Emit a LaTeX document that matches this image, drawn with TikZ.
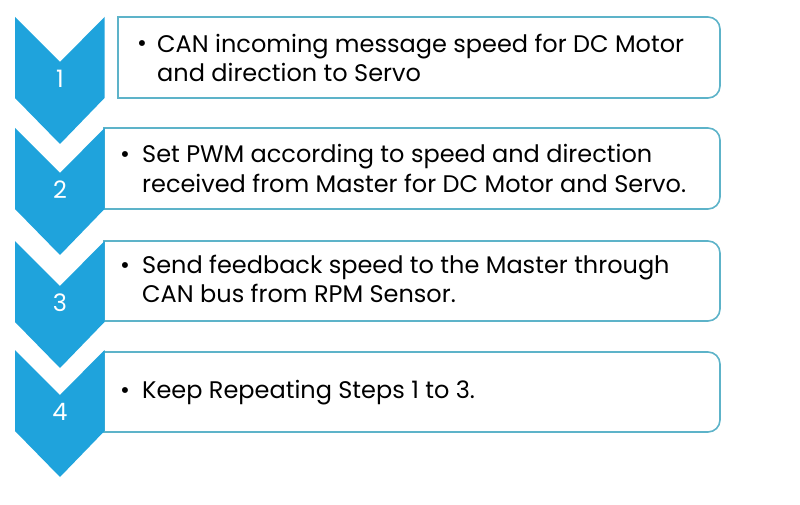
\documentclass[tikz,border=0pt]{standalone}
\usepackage{fontspec}
\setmainfont{Poppins}
\definecolor{chev}{HTML}{1FA3DC}
\definecolor{bord}{HTML}{5DB3C9}
\tikzset{
  chevshape/.style={fill=chev, draw=none},
  stepbox/.style={draw=bord, line width=1.6pt, fill=white},
  numlabel/.style={text=white, font=\fontsize{24}{24}\selectfont, inner sep=0pt},
  bulletlabel/.style={font=\fontsize{24}{30}\selectfont, inner sep=0pt, anchor=base},
  textlabel/.style={font=\fontsize{24}{29.5}\selectfont, inner sep=0pt, align=left, anchor=base west},
}
\newcommand{\stepboxpath}[3]{% left x, top y, bottom y
  \draw[stepbox] (#1,#2) -- (708,#2) arc[start angle=-90,end angle=0,radius=12] -- (720,#3-12) arc[start angle=0,end angle=90,radius=12] -- (#1,#3) -- cycle;}
\begin{document}
\begin{tikzpicture}[x=1pt,y=-1pt]
\useasboundingbox (0,0) rectangle (800,505);
% boxes
\stepboxpath{118}{17}{98}
\stepboxpath{104}{128}{209}
\stepboxpath{104}{241}{321}
\stepboxpath{104}{352}{432}
% chevrons
\foreach \t/\n in {17/1,128/2,241/3,350/4}{
  \fill[chevshape] (15,\t) -- (60,\t+45) -- (104.5,\t) -- (104.5,\t+81) -- (60,\t+127) -- (15,\t+81) -- cycle;
  \node[numlabel] (num\n) at (60,\t+62) {\n};
}
% texts (anchored at the baseline of the last line)
\node[bulletlabel] (b1) at (142,52) {•};
\node[textlabel] (t1) at (157,82) {CAN incoming message speed for DC Motor\\and direction to Servo};
\node[bulletlabel] (b2) at (125,163) {•};
\node[textlabel] (t2) at (142,192.5) {Set PWM according to speed and direction\\received from Master for DC Motor and Servo.};
\node[bulletlabel] (b3) at (125,273) {•};
\node[textlabel] (t3) at (142,302.5) {Send feedback speed to the Master through\\CAN bus from RPM Sensor.};
\node[bulletlabel] (b4) at (125,398) {•};
\node[textlabel] (t4) at (142,398) {Keep Repeating Steps 1 to 3.};
\end{tikzpicture}
\end{document}
